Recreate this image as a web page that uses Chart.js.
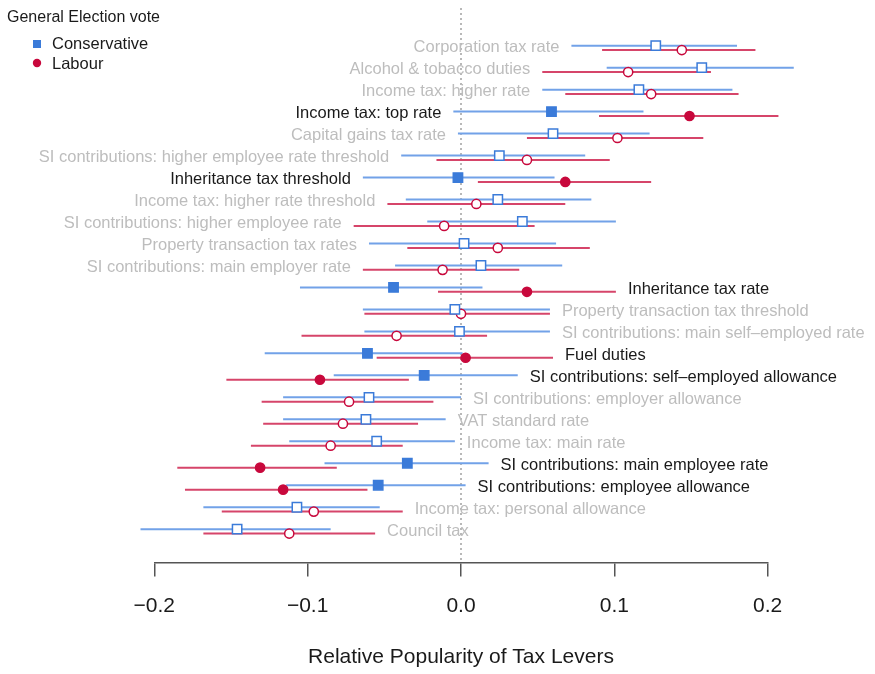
<!DOCTYPE html>
<html>
<head>
<meta charset="utf-8">
<script src="https://cdn.jsdelivr.net/npm/chart.js@4.4.1/dist/chart.umd.min.js"></script>
<style>
  html, body { margin: 0; background: #fff; }
  #wrap { width: 875px; height: 674px; position: relative; }
</style>
</head>
<body>
<div id="wrap"><canvas id="chart"></canvas></div>
<script>
// Tax levers, top to bottom
const levers = [
  'Corporation tax rate',
  'Alcohol & tobacco duties',
  'Income tax: higher rate',
  'Income tax: top rate',
  'Capital gains tax rate',
  'SI contributions: higher employee rate threshold',
  'Inheritance tax threshold',
  'Income tax: higher rate threshold',
  'SI contributions: higher employee rate',
  'Property transaction tax rates',
  'SI contributions: main employer rate',
  'Inheritance tax rate',
  'Property transaction tax threshold',
  'SI contributions: main self\u2013employed rate',
  'Fuel duties',
  'SI contributions: self\u2013employed allowance',
  'SI contributions: employer allowance',
  'VAT standard rate',
  'Income tax: main rate',
  'SI contributions: main employee rate',
  'SI contributions: employee allowance',
  'Income tax: personal allowance',
  'Council tax'
];

// Conservative voters: estimate and interval
const conMean = [0.127, 0.157, 0.116, 0.059, 0.060, 0.025, -0.002, 0.024, 0.040, 0.002, 0.013, -0.044, -0.004, -0.001, -0.061, -0.024, -0.060, -0.062, -0.055, -0.035, -0.054, -0.107, -0.146];
const conLo   = [0.072, 0.095, 0.053, -0.005, -0.002, -0.039, -0.064, -0.036, -0.022, -0.060, -0.043, -0.105, -0.064, -0.063, -0.128, -0.083, -0.116, -0.116, -0.112, -0.089, -0.114, -0.168, -0.209];
const conHi   = [0.180, 0.217, 0.177, 0.119, 0.123, 0.081, 0.061, 0.085, 0.101, 0.062, 0.066, 0.014, 0.058, 0.058, 0.001, 0.037, 0.000, -0.010, -0.004, 0.018, 0.003, -0.053, -0.085];

// Labour voters: estimate and interval
const labMean = [0.144, 0.109, 0.124, 0.149, 0.102, 0.043, 0.068, 0.010, -0.011, 0.024, -0.012, 0.043, 0.000, -0.042, 0.003, -0.092, -0.073, -0.077, -0.085, -0.131, -0.116, -0.096, -0.112];
const labLo   = [0.092, 0.053, 0.068, 0.090, 0.043, -0.016, 0.011, -0.048, -0.070, -0.035, -0.064, -0.015, -0.063, -0.104, -0.055, -0.153, -0.130, -0.129, -0.137, -0.185, -0.180, -0.156, -0.168];
const labHi   = [0.192, 0.163, 0.181, 0.207, 0.158, 0.097, 0.124, 0.068, 0.048, 0.084, 0.038, 0.101, 0.058, 0.017, 0.060, -0.034, -0.018, -0.028, -0.038, -0.081, -0.061, -0.038, -0.056];

// Levers where the two parties differ (filled markers, dark label)
const significant = [false, false, false, true, false, false, true, false, false, false, false, true, false, false, true, true, false, false, false, true, true, false, false];

const xTicks = [-0.2, -0.1, 0.0, 0.1, 0.2];

// colours
const CON = '#3b7bd9', CON_LINE = '#72a2e8';
const LAB = '#c8083c', LAB_LINE = '#d6456a';
const FONT = '"Liberation Sans", Arial, Helvetica, sans-serif';

const Y_MIN = -1.81, Y_MAX = 23.42;
const SHIFT = 0.1; // vertical nudge between the two parties

const datasets = [];

// zero reference line
datasets.push({
  type: 'line',
  data: [{ x: 0, y: Y_MIN }, { x: 0, y: Y_MAX }],
  borderColor: '#a0a0a0',
  borderWidth: 1.5,
  borderDash: [2, 3],
  pointRadius: 0,
  order: 3
});

// interval lines
levers.forEach((name, i) => {
  datasets.push({
    type: 'line',
    data: [{ x: conLo[i], y: i - SHIFT }, { x: conHi[i], y: i - SHIFT }],
    borderColor: CON_LINE,
    borderWidth: 2,
    pointRadius: 0,
    clip: false,
    order: 2
  });
  datasets.push({
    type: 'line',
    data: [{ x: labLo[i], y: i + SHIFT }, { x: labHi[i], y: i + SHIFT }],
    borderColor: LAB_LINE,
    borderWidth: 2,
    pointRadius: 0,
    clip: false,
    order: 2
  });
});

// point estimates
datasets.push({
  type: 'scatter',
  label: 'Conservative',
  data: conMean.map((v, i) => ({ x: v, y: i - SHIFT })),
  pointStyle: 'rect',
  pointRadius: 6.6,
  pointBorderWidth: 1.5,
  pointBorderColor: CON,
  pointBackgroundColor: significant.map(s => s ? CON : '#ffffff'),
  clip: false,
  order: 0
});
datasets.push({
  type: 'scatter',
  label: 'Labour',
  data: labMean.map((v, i) => ({ x: v, y: i + SHIFT })),
  pointStyle: 'circle',
  pointRadius: 4.6,
  pointBorderWidth: 1.5,
  pointBorderColor: LAB,
  pointBackgroundColor: significant.map(s => s ? LAB : '#ffffff'),
  clip: false,
  order: 0
});

// lever names beside the intervals + legend
const labelPlugin = {
  id: 'leverLabels',
  afterDatasetsDraw(chart) {
    const ctx = chart.ctx;
    const xs = chart.scales.x, ys = chart.scales.y;
    ctx.save();
    ctx.font = '16.5px ' + FONT;
    ctx.textBaseline = 'middle';
    levers.forEach((name, i) => {
      const y = ys.getPixelForValue(i);
      ctx.fillStyle = significant[i] ? '#1a1a1a' : '#bdbdbd';
      if (conMean[i] + labMean[i] > 0) {
        ctx.textAlign = 'right';
        ctx.fillText(name, xs.getPixelForValue(Math.min(conLo[i], labLo[i])) - 12, y);
      } else {
        ctx.textAlign = 'left';
        ctx.fillText(name, xs.getPixelForValue(Math.max(conHi[i], labHi[i])) + 12, y);
      }
    });

    // legend
    ctx.textAlign = 'left';
    ctx.fillStyle = '#1a1a1a';
    ctx.font = '16px ' + FONT;
    ctx.fillText('General Election vote', 7, 18);
    ctx.font = '16.5px ' + FONT;
    ctx.fillText('Conservative', 52, 44);
    ctx.fillText('Labour', 52, 64);
    ctx.fillStyle = CON;
    ctx.fillRect(33, 40, 8, 8);
    ctx.fillStyle = LAB;
    ctx.beginPath();
    ctx.arc(37, 63, 4.2, 0, Math.PI * 2);
    ctx.fill();
    ctx.restore();
  }
};

new Chart(document.getElementById('chart'), {
  type: 'scatter',
  data: { datasets: datasets },
  options: {
    responsive: true,
    maintainAspectRatio: false,
    animation: false,
    layout: { padding: { left: 154.3, right: 107.3, top: 5, bottom: 2 } },
    plugins: {
      legend: { display: false },
      tooltip: { enabled: false }
    },
    scales: {
      x: {
        type: 'linear',
        min: -0.2,
        max: 0.2,
        afterBuildTicks: scale => { scale.ticks = xTicks.map(v => ({ value: v })); },
        grid: {
          drawOnChartArea: false,
          drawTicks: true,
          tickLength: 14,
          color: '#555',
          lineWidth: 1.5
        },
        border: { display: true, color: '#555', width: 1.5 },
        ticks: {
          padding: 17,
          color: '#1a1a1a',
          font: { family: FONT, size: 21 },
          callback: v => (v < 0 ? '\u2212' : '') + Math.abs(v).toFixed(1)
        },
        title: {
          display: true,
          text: 'Relative Popularity of Tax Levers',
          color: '#1a1a1a',
          font: { family: FONT, size: 21 },
          padding: { top: 9, bottom: 2 }
        }
      },
      y: {
        type: 'linear',
        reverse: true,
        min: Y_MIN,
        max: Y_MAX,
        display: false
      }
    }
  },
  plugins: [labelPlugin]
});
</script>
</body>
</html>
